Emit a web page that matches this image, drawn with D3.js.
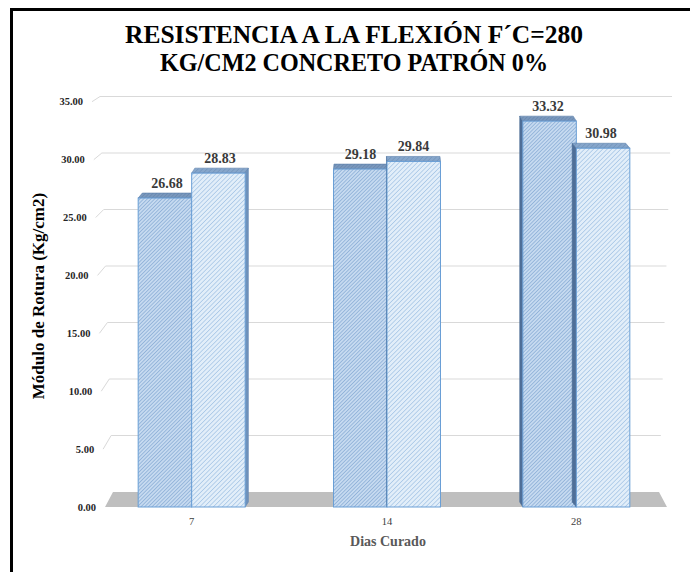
<!DOCTYPE html>
<html><head><meta charset="utf-8">
<script src="https://cdn.jsdelivr.net/npm/d3@7"></script>
<style>body{margin:0;background:#fff}svg{display:block}</style>
</head><body><svg id="c" width="690" height="572"></svg>
<script>
const categories = ["7", "14", "28"];
const seriesNames = ["Patrón 1", "Patrón 2"];
const series1 = [26.68, 29.18, 33.32];
const series2 = [28.83, 29.84, 30.98];
const yTicks = [0, 5, 10, 15, 20, 25, 30, 35];
const titleLines = ["RESISTENCIA A LA FLEXIÓN F´C=280", "KG/CM2 CONCRETO PATRÓN 0%"];
const yTitle = "Módulo de Rotura (Kg/cm2)";
const xTitle = "Dias Curado";

const svg = d3.select("#c");
const serif = "Liberation Serif, Times New Roman, serif";
const defs = svg.append("defs");
function hatch(id, bg, fg, size, w) {
  const p = defs.append("pattern").attr("id", id).attr("patternUnits", "userSpaceOnUse")
    .attr("width", size).attr("height", size).attr("patternTransform", "rotate(45)");
  p.append("rect").attr("width", size).attr("height", size).attr("fill", bg);
  p.append("line").attr("x1", 0).attr("y1", 0).attr("x2", 0).attr("y2", size)
    .attr("stroke", fg).attr("stroke-width", w);
}
hatch("h1", "#c6daf0", "#7ba2cf", 2.6, 1.2);
hatch("h2", "#e2eef9", "#91b7df", 3.2, 1.1);
hatch("h1top", "#7a98bd", "#5f7fa6", 2.6, 1);
hatch("h2top", "#86a6cb", "#6a8cb4", 3.2, 1);

// frame
svg.append("rect").attr("x", 11.5).attr("y", 9.5).attr("width", 700).attr("height", 600)
  .attr("fill", "none").attr("stroke", "#000").attr("stroke-width", 3);

// title
const titleWidths = [458, 388];
svg.append("g").selectAll("text").data(titleLines).join("text")
  .attr("x", 354).attr("y", (d, i) => 43 + i * 28).attr("text-anchor", "middle")
  .attr("font-family", serif).attr("font-weight", "bold").attr("font-size", 26).attr("fill", "#000")
  .attr("textLength", (d, i) => titleWidths[i]).attr("lengthAdjust", "spacingAndGlyphs")
  .text(d => d);

// scales
const yFront = d3.scaleLinear().domain([0, 35]).range([507, 507 - 35 * 11.58]);
const yBack = d3.scaleLinear().domain([0, 35]).range([492, 492 - 35 * 11.3]);
const xFrontLeft = d3.scaleLinear().domain([0, 35]).range([105, 92]);
const xBackLeft = d3.scaleLinear().domain([0, 35]).range([113, 100]);
const xBackRight = d3.scaleLinear().domain([0, 35]).range([659, 672]);
const x0 = d3.scaleBand().domain(categories).range([96, 670]);
const groupW = 107;
const groupShift = [0, 4, 2];
const x1 = d3.scaleBand().domain([0, 1]).range([0, groupW]);

// gridlines
const grid = svg.append("g");
yTicks.filter(v => v > 0).forEach(v => {
  grid.append("path")
    .attr("d", `M${xFrontLeft(v)},${yFront(v)}L${xBackLeft(v)},${yBack(v)}L${xBackRight(v)},${yBack(v)}`)
    .attr("fill", "none").attr("stroke", "#d9d9d9").attr("stroke-width", 1);
});
// floor
svg.append("path")
  .attr("d", `M${xFrontLeft(0)},${yFront(0)}L${xBackLeft(0)},${yBack(0)}L${xBackRight(0)},${yBack(0)}L${xBackRight(0)+8},${yFront(0)}Z`)
  .attr("fill", "#bfbfbf");

// y tick labels
svg.append("g").selectAll("text").data(yTicks).join("text")
  .attr("x", v => xFrontLeft(v) - 9).attr("y", v => yFront(v) + 3.5)
  .attr("text-anchor", "end").attr("font-family", serif).attr("font-weight", "bold")
  .attr("font-size", 10.5).attr("fill", "#262626").text(v => v.toFixed(2));

// bars
const bars = [];
categories.forEach((c, ci) => {
  [series1[ci], series2[ci]].forEach((v, si) => {
    const gx = x0(c) + (x0.bandwidth() - groupW) / 2 + groupShift[ci];
    const xl = gx + x1(si), w = x1.bandwidth();
    bars.push({ ci, si, v, xl, w });
  });
});
const depthX = b => (386 - (b.xl + b.w / 2)) * 0.019;
const bg = svg.append("g");
bars.forEach(b => {
  const yt = yFront(b.v), yb = yFront(0), dx = depthX(b), dy = -5;
  const fill = b.si === 0 ? "url(#h1)" : "url(#h2)";
  const top = b.si === 0 ? "url(#h1top)" : "url(#h2top)";
  if (dx > 0.5) {
    bg.append("path").attr("d", `M${b.xl + b.w},${yt}L${b.xl + b.w + dx},${yt + dy}L${b.xl + b.w + dx},${yb + dy}L${b.xl + b.w},${yb}Z`)
      .attr("fill", "#6f92bb").attr("stroke", "#5d82b0").attr("stroke-width", 0.6);
  } else if (dx < -0.5) {
    bg.append("path").attr("d", `M${b.xl},${yt}L${b.xl + dx},${yt + dy}L${b.xl + dx},${yb + dy}L${b.xl},${yb}Z`)
      .attr("fill", "#4f6f98").attr("stroke", "#476891").attr("stroke-width", 0.6);
  }
  bg.append("path").attr("d", `M${b.xl},${yt}L${b.xl + dx},${yt + dy}L${b.xl + b.w + dx},${yt + dy}L${b.xl + b.w},${yt}Z`)
    .attr("fill", top).attr("stroke", "#5b7fab").attr("stroke-width", 0.6);
  bg.append("rect").attr("x", b.xl).attr("y", yt).attr("width", b.w).attr("height", yb - yt)
    .attr("fill", fill).attr("stroke", "#6a9fd6").attr("stroke-width", 1);
});

// value labels
svg.append("g").selectAll("text").data(bars).join("text")
  .attr("x", b => b.xl + b.w / 2 + depthX(b) / 2).attr("y", b => yFront(b.v) - 10)
  .attr("text-anchor", "middle").attr("font-family", serif).attr("font-weight", "bold")
  .attr("font-size", 14).attr("fill", "#3a3a3a").text(b => b.v.toFixed(2));

// category labels
svg.append("g").selectAll("text").data(categories).join("text")
  .attr("x", (c, i) => x0(c) + x0.bandwidth() / 2 + groupShift[i]).attr("y", 525)
  .attr("text-anchor", "middle").attr("font-family", serif).attr("font-size", 10.5).attr("fill", "#404040").text(c => c);

// axis titles
svg.append("text").attr("x", 388).attr("y", 546).attr("text-anchor", "middle")
  .attr("font-family", serif).attr("font-weight", "bold").attr("font-size", 14).attr("fill", "#595959").text(xTitle);
svg.append("text").attr("transform", "translate(44,296) rotate(-90)").attr("text-anchor", "middle")
  .attr("font-family", serif).attr("font-weight", "bold").attr("font-size", 17).attr("fill", "#000").text(yTitle);
</script></body></html>
